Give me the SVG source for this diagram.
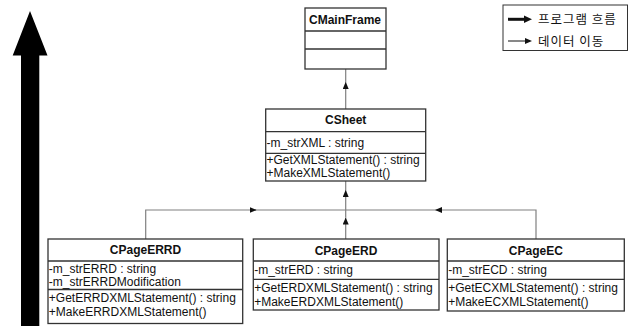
<svg xmlns="http://www.w3.org/2000/svg" width="637" height="326" viewBox="0 0 637 326">
<style>
.box{fill:#fff;stroke:#333;stroke-width:1.3}
.div{stroke:#333;stroke-width:1.3;fill:none}
.t{font-family:"Liberation Sans",Arial,sans-serif;font-size:12px;fill:#111}
.tb{font-family:"Liberation Sans",Arial,sans-serif;font-size:12px;font-weight:bold;fill:#111;text-anchor:middle}
.k{font-family:"Noto Sans CJK KR",sans-serif;font-size:12.5px;letter-spacing:1px;fill:#111}
.c{stroke:#808080;stroke-width:1.2;fill:none}
</style>
<defs>
<marker id="ah" markerUnits="userSpaceOnUse" markerWidth="8" markerHeight="6" refX="7" refY="3" orient="auto">
<path d="M0,0 L7,3 L0,6 z" fill="#111"/>
</marker>
</defs>
<rect width="637" height="326" fill="#fff"/>

<g id="bigArrow">
<polygon points="30,11 47.5,55.5 39.3,55.5 39.3,326 21,326 21,55.5 12.7,55.5" fill="#000"/>
</g>

<g id="legend">
<rect x="503" y="5" width="124.5" height="45.5" fill="#fff" stroke="#333" stroke-width="1"/>
<line x1="508" y1="19.3" x2="526" y2="19.3" stroke="#111" stroke-width="3"/>
<path d="M524,15.5 L532,19.3 L524,23 z" fill="#111"/>
<text class="k" x="538" y="23.5">프로그램 흐름</text>
<line x1="508" y1="41" x2="526" y2="41" stroke="#111" stroke-width="1"/>
<path d="M525,38 L532,41 L525,44 z" fill="#111"/>
<text class="k" x="538" y="46">데이터 이동</text>
</g>

<g id="connectors">
<line class="c" x1="345.7" y1="109" x2="345.7" y2="82" marker-end="url(#ah)"/>
<line class="c" x1="345.7" y1="82" x2="345.7" y2="69"/>
<path class="c" d="M145.7,239 V210 H256.7" marker-end="url(#ah)"/>
<line class="c" x1="256.7" y1="210" x2="345.7" y2="210"/>
<path class="c" d="M536,239 V210 H435" marker-end="url(#ah)"/>
<line class="c" x1="435" y1="210" x2="345.7" y2="210"/>
<line class="c" x1="345.7" y1="239" x2="345.7" y2="217.5" marker-end="url(#ah)"/>
<line class="c" x1="345.7" y1="217.5" x2="345.7" y2="190" marker-end="url(#ah)"/>
<line class="c" x1="345.7" y1="190" x2="345.7" y2="181"/>
</g>

<g id="CMainFrame">
<rect class="box" x="305" y="8" width="81" height="61"/>
<line class="div" x1="305" y1="31" x2="386" y2="31"/>
<line class="div" x1="305" y1="49" x2="386" y2="49"/>
<text class="tb" x="345" y="23.5">CMainFrame</text>
</g>

<g id="CSheet">
<rect class="box" x="265.7" y="109" width="160" height="72"/>
<line class="div" x1="265.7" y1="131.7" x2="425.7" y2="131.7"/>
<line class="div" x1="265.7" y1="153.3" x2="425.7" y2="153.3"/>
<text class="tb" x="345.7" y="123.5">CSheet</text>
<text class="t" x="266.5" y="146.5">-m_strXML : string</text>
<text class="t" x="266.5" y="164">+GetXMLStatement() : string</text>
<text class="t" x="266.5" y="177">+MakeXMLStatement()</text>
</g>

<g id="CPageERRD">
<rect class="box" x="48" y="239" width="194.7" height="84.5"/>
<line class="div" x1="48" y1="261" x2="242.7" y2="261"/>
<line class="div" x1="48" y1="289.5" x2="242.7" y2="289.5"/>
<text class="tb" x="145.5" y="254">CPageERRD</text>
<text class="t" x="48.8" y="273">-m_strERRD : string</text>
<text class="t" x="48.8" y="286">-m_strERRDModification</text>
<text class="t" x="48.8" y="302">+GetERRDXMLStatement() : string</text>
<text class="t" x="48.8" y="316">+MakeERRDXMLStatement()</text>
</g>

<g id="CPageERD">
<rect class="box" x="253.3" y="239" width="185.7" height="71"/>
<line class="div" x1="253.3" y1="261" x2="439" y2="261"/>
<line class="div" x1="253.3" y1="279.3" x2="439" y2="279.3"/>
<text class="tb" x="346" y="254.5">CPageERD</text>
<text class="t" x="254.2" y="274">-m_strERD : string</text>
<text class="t" x="254.2" y="292">+GetERDXMLStatement() : string</text>
<text class="t" x="254.2" y="306">+MakeERDXMLStatement()</text>
</g>

<g id="CPageEC">
<rect class="box" x="447.3" y="239" width="177" height="72"/>
<line class="div" x1="447.3" y1="261" x2="624.3" y2="261"/>
<line class="div" x1="447.3" y1="279.3" x2="624.3" y2="279.3"/>
<text class="tb" x="535.8" y="254.5">CPageEC</text>
<text class="t" x="448.2" y="274">-m_strECD : string</text>
<text class="t" x="448.2" y="292">+GetECXMLStatement() : string</text>
<text class="t" x="448.2" y="306">+MakeECXMLStatement()</text>
</g>
</svg>
